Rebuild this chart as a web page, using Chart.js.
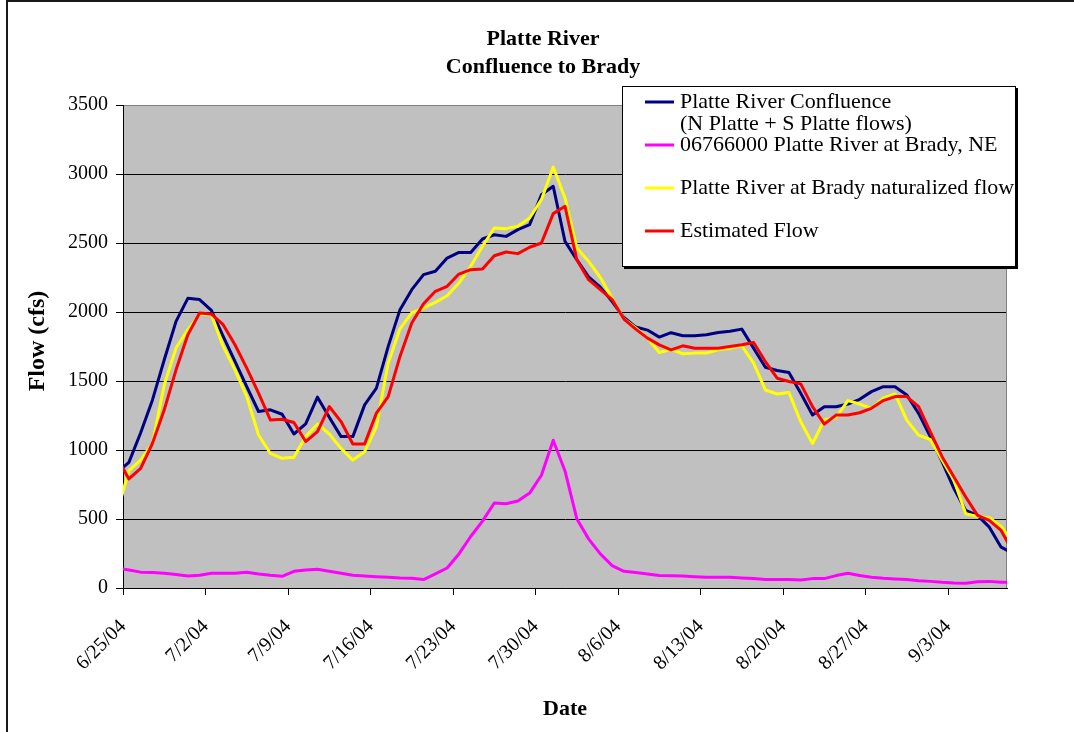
<!DOCTYPE html>
<html>
<head>
<meta charset="utf-8">
<script src="https://cdn.jsdelivr.net/npm/chart.js@4.4.0/dist/chart.umd.min.js"></script>
<style>
  html, body { margin: 0; padding: 0; background: #fff; }
  #wrap { position: relative; width: 1074px; height: 732px; }
</style>
</head>
<body>
<div id="wrap"><canvas id="c" width="1074" height="732"></canvas></div>
<script>
// Daily dates (6/24/04 and 9/8/04 lie just outside the plotted window and are clipped)
const dates = [
  '6/24/04','6/25/04','6/26/04','6/27/04','6/28/04','6/29/04','6/30/04',
  '7/1/04','7/2/04','7/3/04','7/4/04','7/5/04','7/6/04','7/7/04','7/8/04','7/9/04','7/10/04',
  '7/11/04','7/12/04','7/13/04','7/14/04','7/15/04','7/16/04','7/17/04','7/18/04','7/19/04','7/20/04',
  '7/21/04','7/22/04','7/23/04','7/24/04','7/25/04','7/26/04','7/27/04','7/28/04','7/29/04','7/30/04','7/31/04',
  '8/1/04','8/2/04','8/3/04','8/4/04','8/5/04','8/6/04','8/7/04','8/8/04','8/9/04','8/10/04',
  '8/11/04','8/12/04','8/13/04','8/14/04','8/15/04','8/16/04','8/17/04','8/18/04','8/19/04','8/20/04',
  '8/21/04','8/22/04','8/23/04','8/24/04','8/25/04','8/26/04','8/27/04','8/28/04','8/29/04','8/30/04','8/31/04',
  '9/1/04','9/2/04','9/3/04','9/4/04','9/5/04','9/6/04','9/7/04','9/8/04'
];
const tickLabels = ['6/25/04','7/2/04','7/9/04','7/16/04','7/23/04','7/30/04','8/6/04','8/13/04','8/20/04','8/27/04','9/3/04'];
const yTicks = [0, 500, 1000, 1500, 2000, 2500, 3000, 3500];

const seriesNames = [
  'Platte River Confluence\n(N Platte + S Platte flows)',
  '06766000 Platte River at Brady, NE',
  'Platte River at Brady naturalized flow',
  'Estimated Flow'
];

const confluence = [835, 910, 1125, 1363, 1654, 1932, 2099, 2090, 2012, 1823, 1642, 1460, 1279, 1291, 1259, 1116, 1189, 1383, 1237, 1097, 1097, 1327, 1448, 1751, 2017, 2162, 2271, 2295, 2391, 2432, 2432, 2529, 2560, 2548, 2597, 2633, 2850, 2911, 2512, 2379, 2255, 2180, 2075, 1960, 1891, 1869, 1818, 1850, 1828, 1828, 1835, 1852, 1860, 1876, 1738, 1600, 1576, 1561, 1411, 1254, 1314, 1314, 1333, 1367, 1423, 1459, 1459, 1399, 1265, 1096, 914, 720, 562, 526, 441, 296, 250];
const bradyGauge = [145, 131, 115, 112, 107, 97, 87, 92, 107, 107, 107, 114, 102, 92, 85, 121, 131, 136, 121, 107, 92, 87, 82, 78, 73, 70, 61, 102, 145, 247, 373, 485, 616, 611, 630, 688, 817, 1071, 848, 502, 356, 247, 162, 121, 112, 102, 90, 88, 87, 82, 78, 78, 78, 73, 68, 61, 61, 61, 58, 68, 68, 90, 107, 90, 78, 70, 65, 61, 53, 48, 41, 36, 34, 46, 48, 41, 41];
const naturalized = [550, 850, 927, 1049, 1472, 1739, 1872, 1981, 1981, 1751, 1581, 1387, 1109, 976, 940, 947, 1097, 1189, 1116, 1012, 927, 988, 1170, 1630, 1878, 1993, 2029, 2070, 2118, 2210, 2331, 2476, 2609, 2604, 2621, 2681, 2814, 3051, 2826, 2464, 2367, 2250, 2100, 1950, 1884, 1811, 1707, 1730, 1697, 1702, 1702, 1726, 1738, 1755, 1629, 1435, 1406, 1416, 1205, 1047, 1217, 1236, 1358, 1333, 1302, 1375, 1406, 1217, 1108, 1076, 926, 781, 538, 519, 509, 446, 328];
const estimated = [944, 790, 867, 1049, 1291, 1581, 1835, 1993, 1985, 1908, 1763, 1593, 1412, 1218, 1223, 1199, 1061, 1133, 1315, 1206, 1044, 1044, 1267, 1387, 1678, 1920, 2060, 2150, 2186, 2275, 2307, 2312, 2408, 2435, 2423, 2469, 2500, 2713, 2766, 2379, 2234, 2162, 2090, 1949, 1876, 1811, 1762, 1726, 1755, 1738, 1738, 1738, 1750, 1762, 1779, 1641, 1520, 1496, 1479, 1314, 1188, 1253, 1253, 1270, 1302, 1358, 1387, 1387, 1314, 1132, 950, 805, 659, 526, 490, 417, 262];

const seriesColors = ['#000080', '#FF00FF', '#FFFF00', '#FF0000'];
const seriesValues = [confluence, bradyGauge, naturalized, estimated];

// x = days since 6/25/04 00:00; each daily value is placed at noon of its day
const FIRST_TICK_DATE_INDEX = 1;
function toPoints(values) {
  return values.map((v, i) => ({ x: i - FIRST_TICK_DATE_INDEX + 0.5, y: v }));
}

const SERIF = "'Liberation Serif', 'Times New Roman', Times, serif";
Chart.defaults.font.family = SERIF;
Chart.defaults.color = '#000';

const decor = {
  id: 'decor',
  beforeDraw(chart) {
    const { ctx, chartArea: a } = chart;
    ctx.save();
    ctx.fillStyle = '#fff';
    ctx.fillRect(0, 0, chart.width, chart.height);
    ctx.fillStyle = '#C0C0C0';
    ctx.fillRect(a.left, a.top, a.right - a.left, a.bottom - a.top);
    ctx.restore();
  },
  beforeDatasetsDraw(chart) {
    const { ctx, chartArea: a } = chart;
    ctx.save();
    ctx.strokeStyle = '#808080';
    ctx.lineWidth = 1;
    ctx.beginPath();
    ctx.moveTo(a.left + 1, a.top + 0.5);
    ctx.lineTo(a.right - 0.5, a.top + 0.5);
    ctx.lineTo(a.right - 0.5, a.bottom);
    ctx.stroke();
    ctx.restore();
  },
  afterDraw(chart) {
    const { ctx } = chart;
    ctx.save();
    // outer frame (left and top edges visible)
    ctx.fillStyle = '#1a1a1a';
    ctx.fillRect(6, 0, 2, chart.height);
    ctx.fillRect(6, 0, chart.width - 6, 2);

    // chart title
    ctx.fillStyle = '#000';
    ctx.textAlign = 'center';
    ctx.textBaseline = 'middle';
    ctx.font = 'bold 22px ' + SERIF;
    ctx.fillText('Platte River', 543, 39);
    ctx.fillText('Confluence to Brady', 543, 67);

    // axis titles
    ctx.font = 'bold 22px ' + SERIF;
    ctx.fillText('Date', 565, 709);
    ctx.save();
    ctx.translate(38, 341);
    ctx.rotate(-Math.PI / 2);
    ctx.font = 'bold 24px ' + SERIF;
    ctx.fillText('Flow (cfs)', 0, 0);
    ctx.restore();

    // legend box
    const bx = 622, by = 86, bw = 394, bh = 181;
    ctx.fillStyle = '#000';
    ctx.fillRect(bx + 2, by + 2, bw, bh);
    ctx.fillStyle = '#fff';
    ctx.fillRect(bx, by, bw, bh);
    ctx.strokeStyle = '#000';
    ctx.lineWidth = 1;
    ctx.strokeRect(bx + 0.5, by + 0.5, bw - 1, bh - 1);

    const rows = [102, 145, 188, 231];
    ctx.font = '22px ' + SERIF;
    ctx.textAlign = 'left';
    chart.data.datasets.forEach((ds, i) => {
      const y = rows[i];
      ctx.strokeStyle = ds.borderColor;
      ctx.lineWidth = 3;
      ctx.beginPath();
      ctx.moveTo(645, y);
      ctx.lineTo(674, y);
      ctx.stroke();
      ctx.fillStyle = '#000';
      const lines = ds.label.split('\n');
      lines.forEach((t, j) => ctx.fillText(t, 680, y + j * 22));
    });
    ctx.restore();
  }
};

const datasets = seriesNames.map((name, i) => ({
  label: name,
  data: toPoints(seriesValues[i]),
  borderColor: seriesColors[i],
  backgroundColor: seriesColors[i],
  borderWidth: 3,
  pointRadius: 0,
  pointHoverRadius: 0,
  tension: 0,
  fill: false,
  borderJoinStyle: 'round',
  order: seriesNames.length - i
}));

new Chart(document.getElementById('c'), {
  type: 'line',
  data: { datasets },
  options: {
    responsive: false,
    devicePixelRatio: 1,
    animation: false,
    events: [],
    layout: { padding: { left: 0, top: 105, right: 67, bottom: 0 } },
    plugins: {
      legend: { display: false },
      title: { display: false },
      tooltip: { enabled: false }
    },
    scales: {
      x: {
        type: 'linear',
        min: 0,
        max: 75,
        afterBuildTicks: (s) => { s.ticks = tickLabels.map((_, j) => ({ value: j * 7 })); },
        afterFit: (s) => { s.height = 144; },
        ticks: {
          autoSkip: false,
          minRotation: 45,
          maxRotation: 45,
          padding: 20,
          color: '#000',
          font: { size: 20, family: SERIF },
          callback: (v) => tickLabels[Math.round(v / 7)]
        },
        grid: { drawOnChartArea: false, drawTicks: true, tickLength: 7, color: '#000', tickColor: '#000' },
        border: { display: true, color: '#000', width: 1 }
      },
      y: {
        min: 0,
        max: 3500,
        afterBuildTicks: (s) => { s.ticks = yTicks.map(v => ({ value: v })); },
        afterFit: (s) => { s.width = 123; },
        ticks: {
          padding: 8,
          color: '#000',
          font: { size: 20, family: SERIF },
          callback: (v) => String(v)
        },
        grid: {
          color: (c) => (c.tick && c.tick.value === 3500) ? '#808080' : '#000',
          tickColor: '#000',
          tickLength: 7,
          lineWidth: 1
        },
        border: { display: true, color: '#000', width: 1 }
      }
    }
  },
  plugins: [decor]
});
</script>
</body>
</html>
